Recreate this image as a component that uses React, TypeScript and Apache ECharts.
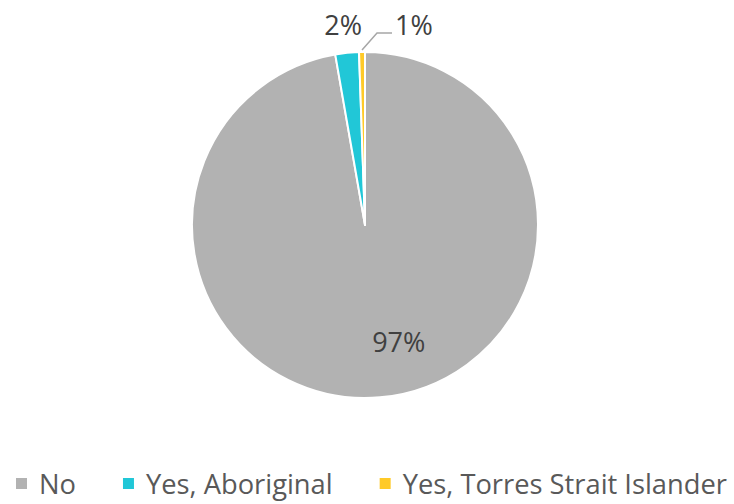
import React, { useEffect, useRef } from "react";
import * as echarts from "echarts";

const categories = ["No", "Yes, Aboriginal", "Yes, Torres Strait Islander"];
const values = [97.25, 2.2, 0.55];
const colors = ["#b2b2b2", "#21c7d7", "#ffca28"];

const CX = 365;
const CY = 225;
const R = 173;

function midPoint(i: number): [number, number] {
  const total = values.reduce((a, b) => a + b, 0);
  let start = 0;
  for (let k = 0; k < i; k++) start += values[k];
  const mid = ((start + values[i] / 2) / total) * Math.PI * 2;
  return [CX + R * Math.sin(mid), CY - R * Math.cos(mid)];
}

export default function App() {
  const ref = useRef<HTMLDivElement>(null);
  useEffect(() => {
    if (!ref.current) return;
    const chart = echarts.init(ref.current, undefined, { renderer: "svg" });
    const total = values.reduce((a, b) => a + b, 0);
    chart.setOption({
      animation: false,
      legend: {
        top: 470,
        left: 14,
        width: 1000,
        padding: 0,
        icon: "rect",
        itemWidth: 13,
        itemHeight: 13,
        itemGap: 45,
        data: categories,
        textStyle: { fontFamily: "Open Sans", fontSize: 27.3, color: "#595959", padding: [0, 0, 0, 6] },
      },
      series: [
        {
          type: "pie",
          center: [CX, CY],
          radius: R,
          startAngle: 90,
          clockwise: true,
          avoidLabelOverlap: false,
          itemStyle: { borderColor: "#ffffff", borderWidth: 2 },
          label: {
            show: true,
            position: "outside",
            fontFamily: "Open Sans",
            fontSize: 27,
            color: "#404040",
            formatter: (p: any) => Math.round((p.value / total) * 100) + "%",
          },
          labelLine: { show: true, lineStyle: { color: "#a6a6a6", width: 1.5 } },
          labelLayout: (params: any) => {
            const i = params.dataIndex;
            if (i === 0) return { dx: 26, dy: 27 };
            const p = midPoint(i);
            if (i === 1) {
              return { x: p[0] - 4, y: p[1] - 28, align: "center", verticalAlign: "middle" };
            }
            return {
              x: p[0] + 33,
              y: p[1] - 28,
              align: "left",
              verticalAlign: "middle",
              labelLinePoints: [
                [p[0], p[1] - 2],
                [p[0] + 15, p[1] - 19],
                [p[0] + 30, p[1] - 19],
              ],
            };
          },
          data: categories.map((name, i) => ({
            name,
            value: values[i],
            itemStyle: { color: colors[i] },
            label: i === 0 ? { position: "inside" } : undefined,
            labelLine: i === 2 ? { show: true } : { show: false },
          })),
        },
      ],
    });
    return () => chart.dispose();
  }, []);
  return (
    <div
      ref={ref}
      style={{ position: "fixed", left: 0, top: 0, width: 734, height: 504, background: "#fff" }}
    />
  );
}
